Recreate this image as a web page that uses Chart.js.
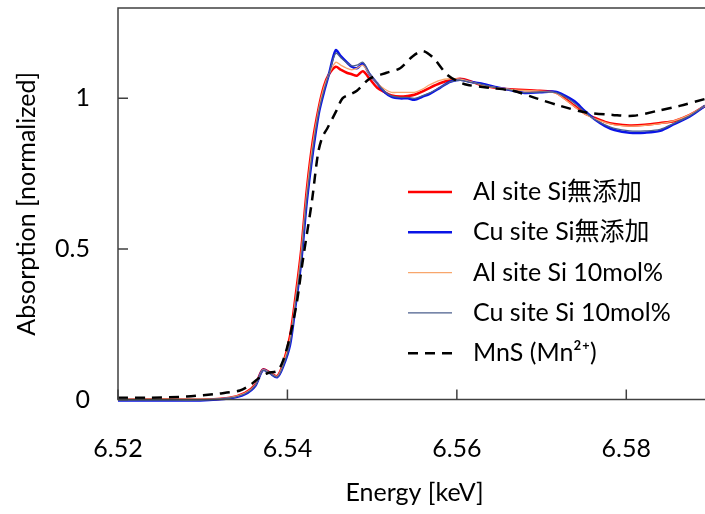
<!DOCTYPE html>
<html>
<head>
<meta charset="utf-8">
<script src="https://cdn.jsdelivr.net/npm/chart.js@4"></script>
<style>
  html, body { margin: 0; padding: 0; background: #fff; overflow: hidden; }
  #wrap { width: 720px; height: 514px; }
</style>
</head>
<body>
<div id="wrap"><canvas id="c"></canvas></div>
<script>
// energy grid of the four sample spectra [keV]
const energy = [6.5200, 6.5250, 6.5297, 6.5332, 6.5350, 6.5362, 6.5371, 6.5379, 6.5388, 6.5395,
  6.5403, 6.5409, 6.5416, 6.5423, 6.5430, 6.5437, 6.5443, 6.5449, 6.5457, 6.5463,
  6.5470, 6.5476, 6.5482, 6.5489, 6.5497, 6.5506, 6.5515, 6.5523, 6.5533, 6.5542,
  6.5550, 6.5559, 6.5568, 6.5580, 6.5592, 6.5604, 6.5615, 6.5627, 6.5645, 6.5663,
  6.5680, 6.5698, 6.5716, 6.5727, 6.5739, 6.5751, 6.5763, 6.5775, 6.5786, 6.5804,
  6.5822, 6.5840, 6.5857, 6.5875, 6.5893];

const alSiNone = [-0.001, 0.000, -0.001, 0.006, 0.022, 0.050, 0.100, 0.090, 0.078, 0.120,
  0.210, 0.330, 0.490, 0.700, 0.860, 0.970, 1.040, 1.080, 1.105, 1.095,
  1.085, 1.080, 1.075, 1.090, 1.065, 1.035, 1.020, 1.010, 1.006, 1.008,
  1.012, 1.022, 1.035, 1.050, 1.060, 1.065, 1.058, 1.045, 1.035, 1.030,
  1.028, 1.025, 1.020, 1.000, 0.975, 0.950, 0.935, 0.922, 0.915, 0.910,
  0.912, 0.918, 0.925, 0.945, 0.975];

const cuSiNone = [-0.003, -0.003, -0.003, 0.004, 0.018, 0.045, 0.098, 0.088, 0.074, 0.110,
  0.180, 0.300, 0.450, 0.660, 0.820, 0.950, 1.020, 1.080, 1.160, 1.140,
  1.120, 1.105, 1.100, 1.115, 1.080, 1.050, 1.020, 1.005, 1.000, 1.000,
  0.995, 1.005, 1.015, 1.035, 1.055, 1.062, 1.055, 1.050, 1.038, 1.028,
  1.018, 1.020, 1.022, 1.010, 0.990, 0.958, 0.930, 0.908, 0.895, 0.886,
  0.886, 0.892, 0.915, 0.940, 0.975];

const alSi10 = [0.000, 0.001, 0.000, 0.006, 0.021, 0.048, 0.099, 0.089, 0.077, 0.118,
  0.200, 0.320, 0.480, 0.690, 0.850, 0.965, 1.035, 1.080, 1.120, 1.110,
  1.100, 1.095, 1.100, 1.110, 1.080, 1.050, 1.030, 1.020, 1.020, 1.020,
  1.020, 1.030, 1.045, 1.060, 1.065, 1.064, 1.056, 1.046, 1.036, 1.030,
  1.026, 1.024, 1.018, 0.998, 0.972, 0.948, 0.932, 0.920, 0.912, 0.908,
  0.910, 0.916, 0.926, 0.946, 0.976];

const cuSi10 = [-0.002, -0.002, -0.002, 0.005, 0.019, 0.046, 0.097, 0.087, 0.075, 0.112,
  0.185, 0.305, 0.460, 0.670, 0.830, 0.955, 1.025, 1.080, 1.150, 1.135,
  1.118, 1.108, 1.110, 1.120, 1.082, 1.050, 1.022, 1.008, 1.003, 1.003,
  1.000, 1.008, 1.018, 1.036, 1.055, 1.060, 1.054, 1.048, 1.036, 1.027,
  1.019, 1.021, 1.020, 1.006, 0.984, 0.955, 0.930, 0.912, 0.900, 0.892,
  0.892, 0.897, 0.918, 0.942, 0.976];

// reference MnS (Mn2+)
const energyMnS = [6.5200, 6.5238, 6.5281, 6.5320, 6.5344, 6.5356, 6.5368, 6.5377, 6.5388, 6.5395,
  6.5403, 6.5411, 6.5417, 6.5423, 6.5429, 6.5436, 6.5441, 6.5447, 6.5458, 6.5465,
  6.5474, 6.5482, 6.5497, 6.5517, 6.5533, 6.5548, 6.5560, 6.5572, 6.5588, 6.5600,
  6.5612, 6.5639, 6.5666, 6.5694, 6.5722, 6.5753, 6.5784, 6.5808, 6.5836, 6.5863,
  6.5893];

const mns = [0.006, 0.006, 0.010, 0.020, 0.030, 0.048, 0.075, 0.088, 0.095, 0.130,
  0.210, 0.320, 0.440, 0.550, 0.660, 0.815, 0.870, 0.900, 0.960, 1.000,
  1.013, 1.025, 1.065, 1.085, 1.100, 1.140, 1.157, 1.135, 1.080, 1.058,
  1.045, 1.035, 1.025, 1.000, 0.975, 0.953, 0.945, 0.942, 0.958, 0.975,
  0.998];

const seriesNames = ['Al site Si無添加', 'Cu site Si無添加', 'Al site Si 10mol%', 'Cu site Si 10mol%', 'MnS (Mn²⁺)'];
const xTicks = [6.52, 6.54, 6.56, 6.58];
const yTicks = [0, 0.5, 1];

const FONT = "Lato, 'Noto Sans CJK JP', sans-serif";
const AXIS = '#404040';

function pts(xs, ys) { return xs.map((x, i) => ({x: x, y: ys[i]})); }

// plot frame, inward tick marks and the legend
const decor = {
  id: 'decor',
  afterDatasetsDraw(chart) {
    const ctx = chart.ctx, a = chart.chartArea;
    const xs = chart.scales.x, ys = chart.scales.y;
    ctx.save();
    ctx.strokeStyle = AXIS;
    ctx.lineWidth = 1.5;
    ctx.strokeRect(a.left, a.top, a.right - a.left, a.bottom - a.top);
    ctx.beginPath();
    xTicks.forEach(v => { const p = xs.getPixelForValue(v); ctx.moveTo(p, a.bottom); ctx.lineTo(p, a.bottom - 10); });
    yTicks.forEach(v => { const p = ys.getPixelForValue(v); ctx.moveTo(a.left, p); ctx.lineTo(a.left + 10, p); });
    ctx.stroke();

    // legend
    ctx.font = '25px ' + FONT;
    ctx.textBaseline = 'middle';
    ctx.fillStyle = '#000';
    chart.data.datasets.forEach((ds, i) => {
      const y = 192 + i * 40.3;
      ctx.strokeStyle = ds.borderColor;
      ctx.lineWidth = ds.borderWidth;
      ctx.setLineDash(ds.borderDash || []);
      ctx.beginPath();
      ctx.moveTo(408, y);
      ctx.lineTo(452, y);
      ctx.stroke();
      ctx.setLineDash([]);
      ctx.fillText(ds.label, 473, y);
    });
    ctx.restore();
  }
};

const lineDefaults = { pointRadius: 0, tension: 0.3, clip: false, fill: false };

new Chart(document.getElementById('c'), {
  type: 'line',
  data: {
    datasets: [
      Object.assign({ label: seriesNames[0], data: pts(energy, alSiNone), borderColor: '#ff0000', borderWidth: 2.5, order: 4 }, lineDefaults),
      Object.assign({ label: seriesNames[1], data: pts(energy, cuSiNone), borderColor: '#0a14e6', borderWidth: 2.5, order: 3 }, lineDefaults),
      Object.assign({ label: seriesNames[2], data: pts(energy, alSi10), borderColor: '#f8a66c', borderWidth: 1.3, order: 2 }, lineDefaults),
      Object.assign({ label: seriesNames[3], data: pts(energy, cuSi10), borderColor: '#4a5e8c', borderWidth: 1.3, order: 1 }, lineDefaults),
      Object.assign({ label: seriesNames[4], data: pts(energyMnS, mns), borderColor: '#000000', borderWidth: 2.5, borderDash: [10, 7], order: 0 }, lineDefaults)
    ]
  },
  options: {
    responsive: true,
    maintainAspectRatio: false,
    animation: false,
    layout: { padding: { top: 8, left: 0, right: 9, bottom: 0 } },
    plugins: { legend: { display: false }, tooltip: { enabled: false } },
    scales: {
      x: {
        type: 'linear',
        min: 6.52,
        max: 6.59,
        afterBuildTicks: s => { s.ticks = xTicks.map(v => ({value: v})); },
        afterFit: s => { s.height = 114.5; s.paddingLeft = 0; s.paddingRight = 0; },
        grid: { display: false, drawTicks: false },
        border: { display: false },
        ticks: { color: '#000', font: { family: FONT, size: 25 }, padding: 34, callback: v => v.toFixed(2) },
        title: { display: true, text: 'Energy [keV]', color: '#000', font: { family: FONT, size: 25 }, padding: { top: 0, bottom: 6 } }
      },
      y: {
        min: 0,
        max: 1.3,
        afterBuildTicks: s => { s.ticks = yTicks.map(v => ({value: v})); },
        afterFit: s => { s.width = 118; s.paddingTop = 0; s.paddingBottom = 0; },
        grid: { display: false, drawTicks: false },
        border: { display: false },
        ticks: { color: '#000', font: { family: FONT, size: 25 }, padding: 28, callback: v => String(v) },
        title: { display: true, text: 'Absorption [normalized]', color: '#000', font: { family: FONT, size: 25 }, padding: { top: 12, bottom: 0 } }
      }
    }
  },
  plugins: [decor]
});
</script>
</body>
</html>
